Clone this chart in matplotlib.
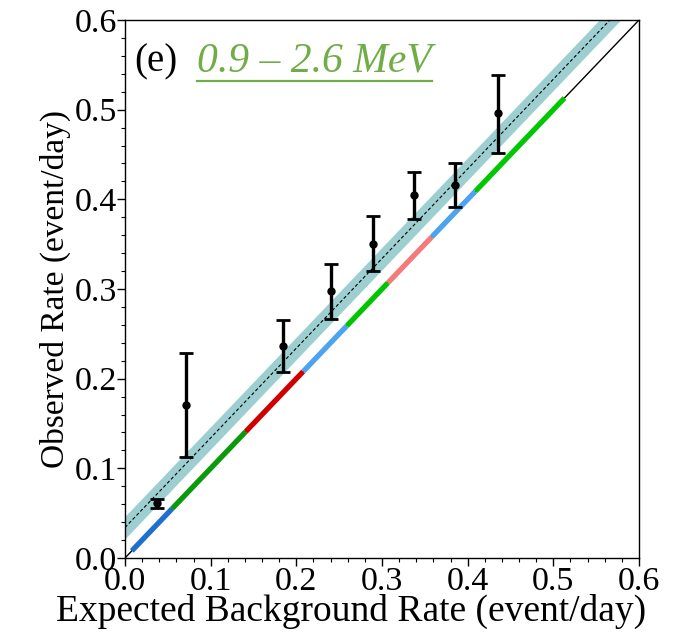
import matplotlib
matplotlib.use("Agg")
import matplotlib.pyplot as plt
import numpy as np
from matplotlib.lines import Line2D

plt.rcParams['font.family'] = ['Liberation Serif', 'DejaVu Serif']
plt.rcParams['mathtext.fontset'] = 'stix'

# observed rates vs expected background (event/day)
exp_rate = [0.037, 0.071, 0.184, 0.2405, 0.289, 0.337, 0.385, 0.435]
obs_rate = [0.061, 0.171, 0.236, 0.298, 0.350, 0.405, 0.416, 0.496]
obs_lo = [0.056, 0.113, 0.207, 0.2665, 0.320, 0.378, 0.391, 0.452]
obs_hi = [0.066, 0.229, 0.266, 0.328, 0.381, 0.430, 0.4405, 0.539]

# fitted line: y = x + offset, with band
fit_offset = 0.034
fit_band = 0.0125

# coloured segments along y = x
seg_edges = [0.008, 0.055, 0.141, 0.208, 0.259, 0.307, 0.358, 0.409, 0.513]
seg_colors = ['#1f6fd0', '#0b9a0b', '#d10000', '#4ca3f0',
              '#00c400', '#f47b7b', '#4ca3f0', '#00c800']

fig = plt.figure(figsize=(6.92, 6.44), dpi=100)
ax = fig.add_axes([0.1806, 0.1335, 0.7428, 0.8354])

xx = np.array([0.0, 0.6])
ax.fill_between(xx, xx + fit_offset - fit_band, xx + fit_offset + fit_band,
                color='#9dcfd1', lw=0, zorder=1)
ax.plot(xx, xx + fit_offset, ls=(0, (3, 2)), color='black', lw=0.8, zorder=2)

ax.plot(xx, xx, color='black', lw=1.0, zorder=2)
for i in range(len(seg_colors)):
    a, b = seg_edges[i], seg_edges[i + 1]
    ax.plot([a, b], [a, b], color=seg_colors[i], lw=3.8,
            solid_capstyle='butt', zorder=3)

yerr = [np.array(obs_rate) - np.array(obs_lo), np.array(obs_hi) - np.array(obs_rate)]
ax.errorbar(exp_rate, obs_rate, yerr=yerr, fmt='o', color='black', ms=5,
            elinewidth=2.4, capsize=5, capthick=2.0, zorder=5)

ax.set_xlim(0, 0.6)
ax.set_ylim(0, 0.6)
ticks = [0.0, 0.1, 0.2, 0.3, 0.4, 0.5, 0.6]
ax.set_xticks(ticks)
ax.set_yticks(ticks)
ax.set_xticklabels(['%.1f' % t for t in ticks])
ax.set_yticklabels(['%.1f' % t for t in ticks])
ax.set_xticks(np.arange(0, 0.601, 0.02), minor=True)
ax.set_yticks(np.arange(0, 0.601, 0.02), minor=True)
ax.tick_params(which='major', labelsize=24.5, length=6, width=1.0, pad=0)
ax.tick_params(which='minor', length=3, width=0.8)
for s in ax.spines.values():
    s.set_linewidth(1.0)

ax.set_xlabel('Expected Background Rate (event/day)', fontsize=27, labelpad=0)
ax.xaxis.set_label_coords(0.44, -0.067)
ax.xaxis.label.set_va('top')
ax.set_ylabel('Observed Rate (event/day)', fontsize=24, labelpad=2)

ax.text(0.018, 0.905, '(e)', transform=ax.transAxes, fontsize=28,
        color='black', va='baseline')
t = ax.text(0.14, 0.905, '0.9 – 2.6 MeV', transform=ax.transAxes, fontsize=30,
            color='#70ad47', style='italic', va='baseline')

fig.canvas.draw()
bb = t.get_window_extent()
uy = bb.y0 - 1
fig.add_artist(Line2D([bb.x0 / fig.bbox.width, bb.x1 / fig.bbox.width],
                      [uy / fig.bbox.height, uy / fig.bbox.height],
                      color='#70ad47', lw=1.6, transform=fig.transFigure))

fig.savefig('out.png', dpi=100)
